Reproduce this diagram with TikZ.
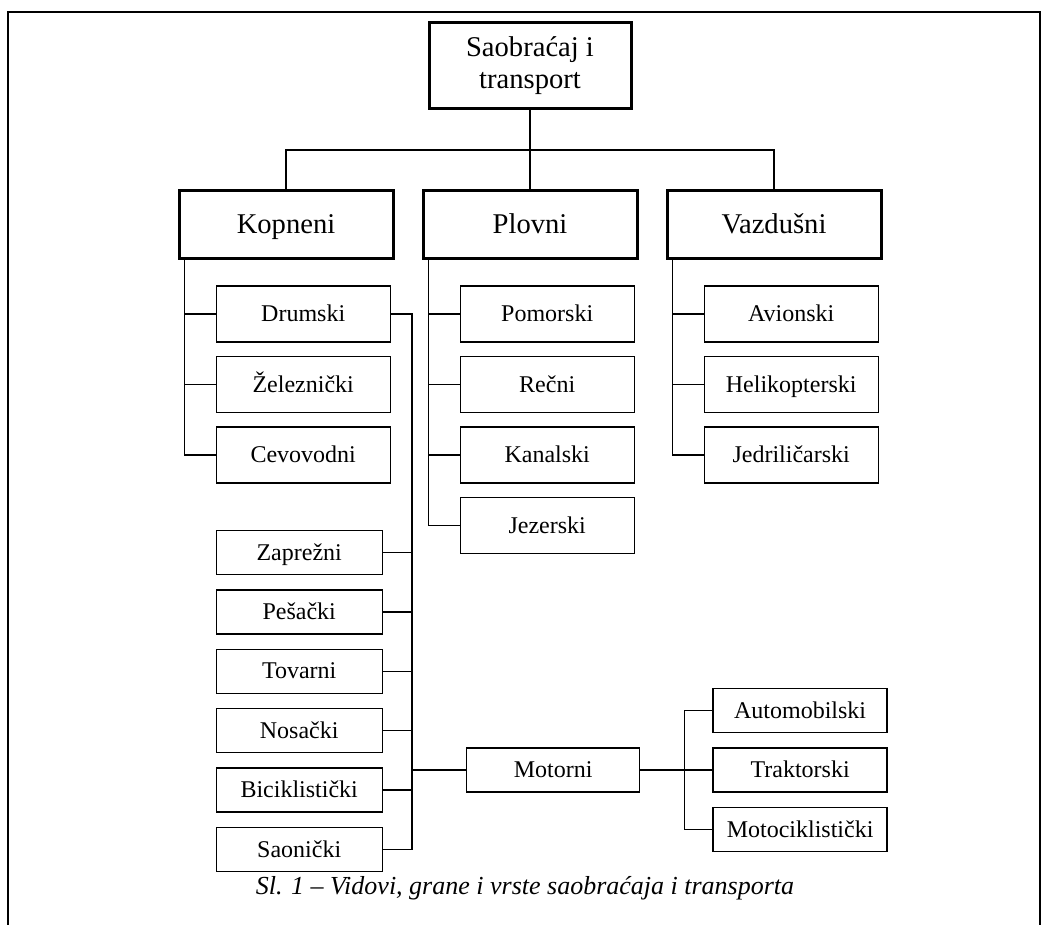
\documentclass[tikz,border=0pt]{standalone}
\usepackage{fontspec}
\setmainfont{Liberation Serif}
\usetikzlibrary{positioning}

\begin{document}
\begin{tikzpicture}[x=0.5pt,y=-0.5pt,
		root/.style={rectangle, draw=black, line width=1.5pt, minimum width=101pt, minimum height=43pt, align=center, font=\fontsize{14.3}{16}\selectfont},
		group/.style={rectangle, draw=black, line width=1.5pt, minimum width=107pt, minimum height=34pt, text height=9.6pt, text depth=0.6pt, font=\fontsize{14.3}{16}\selectfont},
		kind/.style={rectangle, draw=black, line width=0.7pt, minimum width=87pt, minimum height=28pt, text height=8.1pt, text depth=0.5pt, font=\fontsize{12}{14}\selectfont},
		small/.style={rectangle, draw=black, line width=0.7pt, minimum width=83pt, minimum height=22pt, text height=8.1pt, text depth=0.5pt, font=\fontsize{12}{14}\selectfont},
		link/.style={draw=black, line width=0.7pt}
	]
	\useasboundingbox (0,0) rectangle (1050,925);
	\draw[line width=0.9pt] (8,925) -- (8,12) -- (1040,12) -- (1040,925);
	\node[root] (saobracaj) at (530,66) {Saobraćaj i\\transport};
	\node[group] (plovni) [below=39.5pt of saobracaj] {Plovni};
	\node[group] (kopneni) [left=13.5pt of plovni] {Kopneni};
	\node[group] (vazdusni) [right=13.5pt of plovni] {Vazdušni};
	\coordinate (split) at (530,150);
	% kopneni
	\node[kind] (drumski) [below right=12.5pt and 19pt of kopneni.south west] {Drumski};
	\node[kind] (zeleznicki) [below=6.5pt of drumski] {Železnički};
	\node[kind] (cevovodni) [below=6.5pt of zeleznicki] {Cevovodni};
	% plovni
	\node[kind] (pomorski) [below right=12.5pt and 19pt of plovni.south west] {Pomorski};
	\node[kind] (recni) [below=6.5pt of pomorski] {Rečni};
	\node[kind] (kanalski) [below=6.5pt of recni] {Kanalski};
	\node[kind] (jezerski) [below=6.5pt of kanalski] {Jezerski};
	% vazdusni
	\node[kind] (avionski) [below right=12.5pt and 19pt of vazdusni.south west] {Avionski};
	\node[kind] (helikopterski) [below=6.5pt of avionski] {Helikopterski};
	\node[kind] (jedrilicarski) [below=6.5pt of helikopterski] {Jedriličarski};
	% drumski
	\node[small] (zaprezni) [below=23pt of cevovodni.south west, anchor=north west] {Zaprežni};
	\node[small] (pesacki) [below=7pt of zaprezni] {Pešački};
	\node[small] (tovarni) [below=7pt of pesacki] {Tovarni};
	\node[small] (nosacki) [below=7pt of tovarni] {Nosački};
	\node[small] (biciklisticki) [below=7pt of nosacki] {Biciklistički};
	\node[small] (saonicki) [below=7pt of biciklisticki] {Saonički};
	\node[small, minimum width=86.5pt, anchor=west] (motorni) at (466,770) {Motorni};
	\node[small, minimum width=87pt] (traktorski) [right=36pt of motorni] {Traktorski};
	\node[small, minimum width=87pt] (automobilski) [above=7pt of traktorski] {Automobilski};
	\node[small, minimum width=87pt] (motociklisticki) [below=7pt of traktorski] {Motociklistički};
	\coordinate (bus) at ([xshift=10.5pt]drumski.east);
	\coordinate (mbus) at ([xshift=-14pt]traktorski.west);
	\node (caption) at (525,888) {\fontsize{13}{15}\selectfont\itshape Sl. 1 – Vidovi, grane i vrste saobraćaja i transporta};
	\begin{scope}[link]
	\draw (saobracaj.south) -- (plovni.north);
	\draw (kopneni.north) |- (split) -| (vazdusni.north);
	\draw ([xshift=3.5pt]kopneni.south west) |- (cevovodni.west);
	\draw (drumski.west) -- ++(-15.5pt,0);
	\draw (zeleznicki.west) -- ++(-15.5pt,0);
	\draw ([xshift=3.5pt]plovni.south west) |- (jezerski.west);
	\draw (pomorski.west) -- ++(-15.5pt,0);
	\draw (recni.west) -- ++(-15.5pt,0);
	\draw (kanalski.west) -- ++(-15.5pt,0);
	\draw ([xshift=3.5pt]vazdusni.south west) |- (jedrilicarski.west);
	\draw (avionski.west) -- ++(-15.5pt,0);
	\draw (helikopterski.west) -- ++(-15.5pt,0);
	\draw (drumski.east) -- (bus) |- (saonicki.east);
	\draw (zaprezni.east) -- (zaprezni.east -| bus);
	\draw (pesacki.east) -- (pesacki.east -| bus);
	\draw (tovarni.east) -- (tovarni.east -| bus);
	\draw (nosacki.east) -- (nosacki.east -| bus);
	\draw (biciklisticki.east) -- (biciklisticki.east -| bus);
	\draw (motorni.west -| bus) -- (motorni.west);
	\draw (motorni.east) -- (traktorski.west);
	\draw (automobilski.west) -| (mbus) |- (motociklisticki.west);
	\end{scope}
\end{tikzpicture}
\end{document}
